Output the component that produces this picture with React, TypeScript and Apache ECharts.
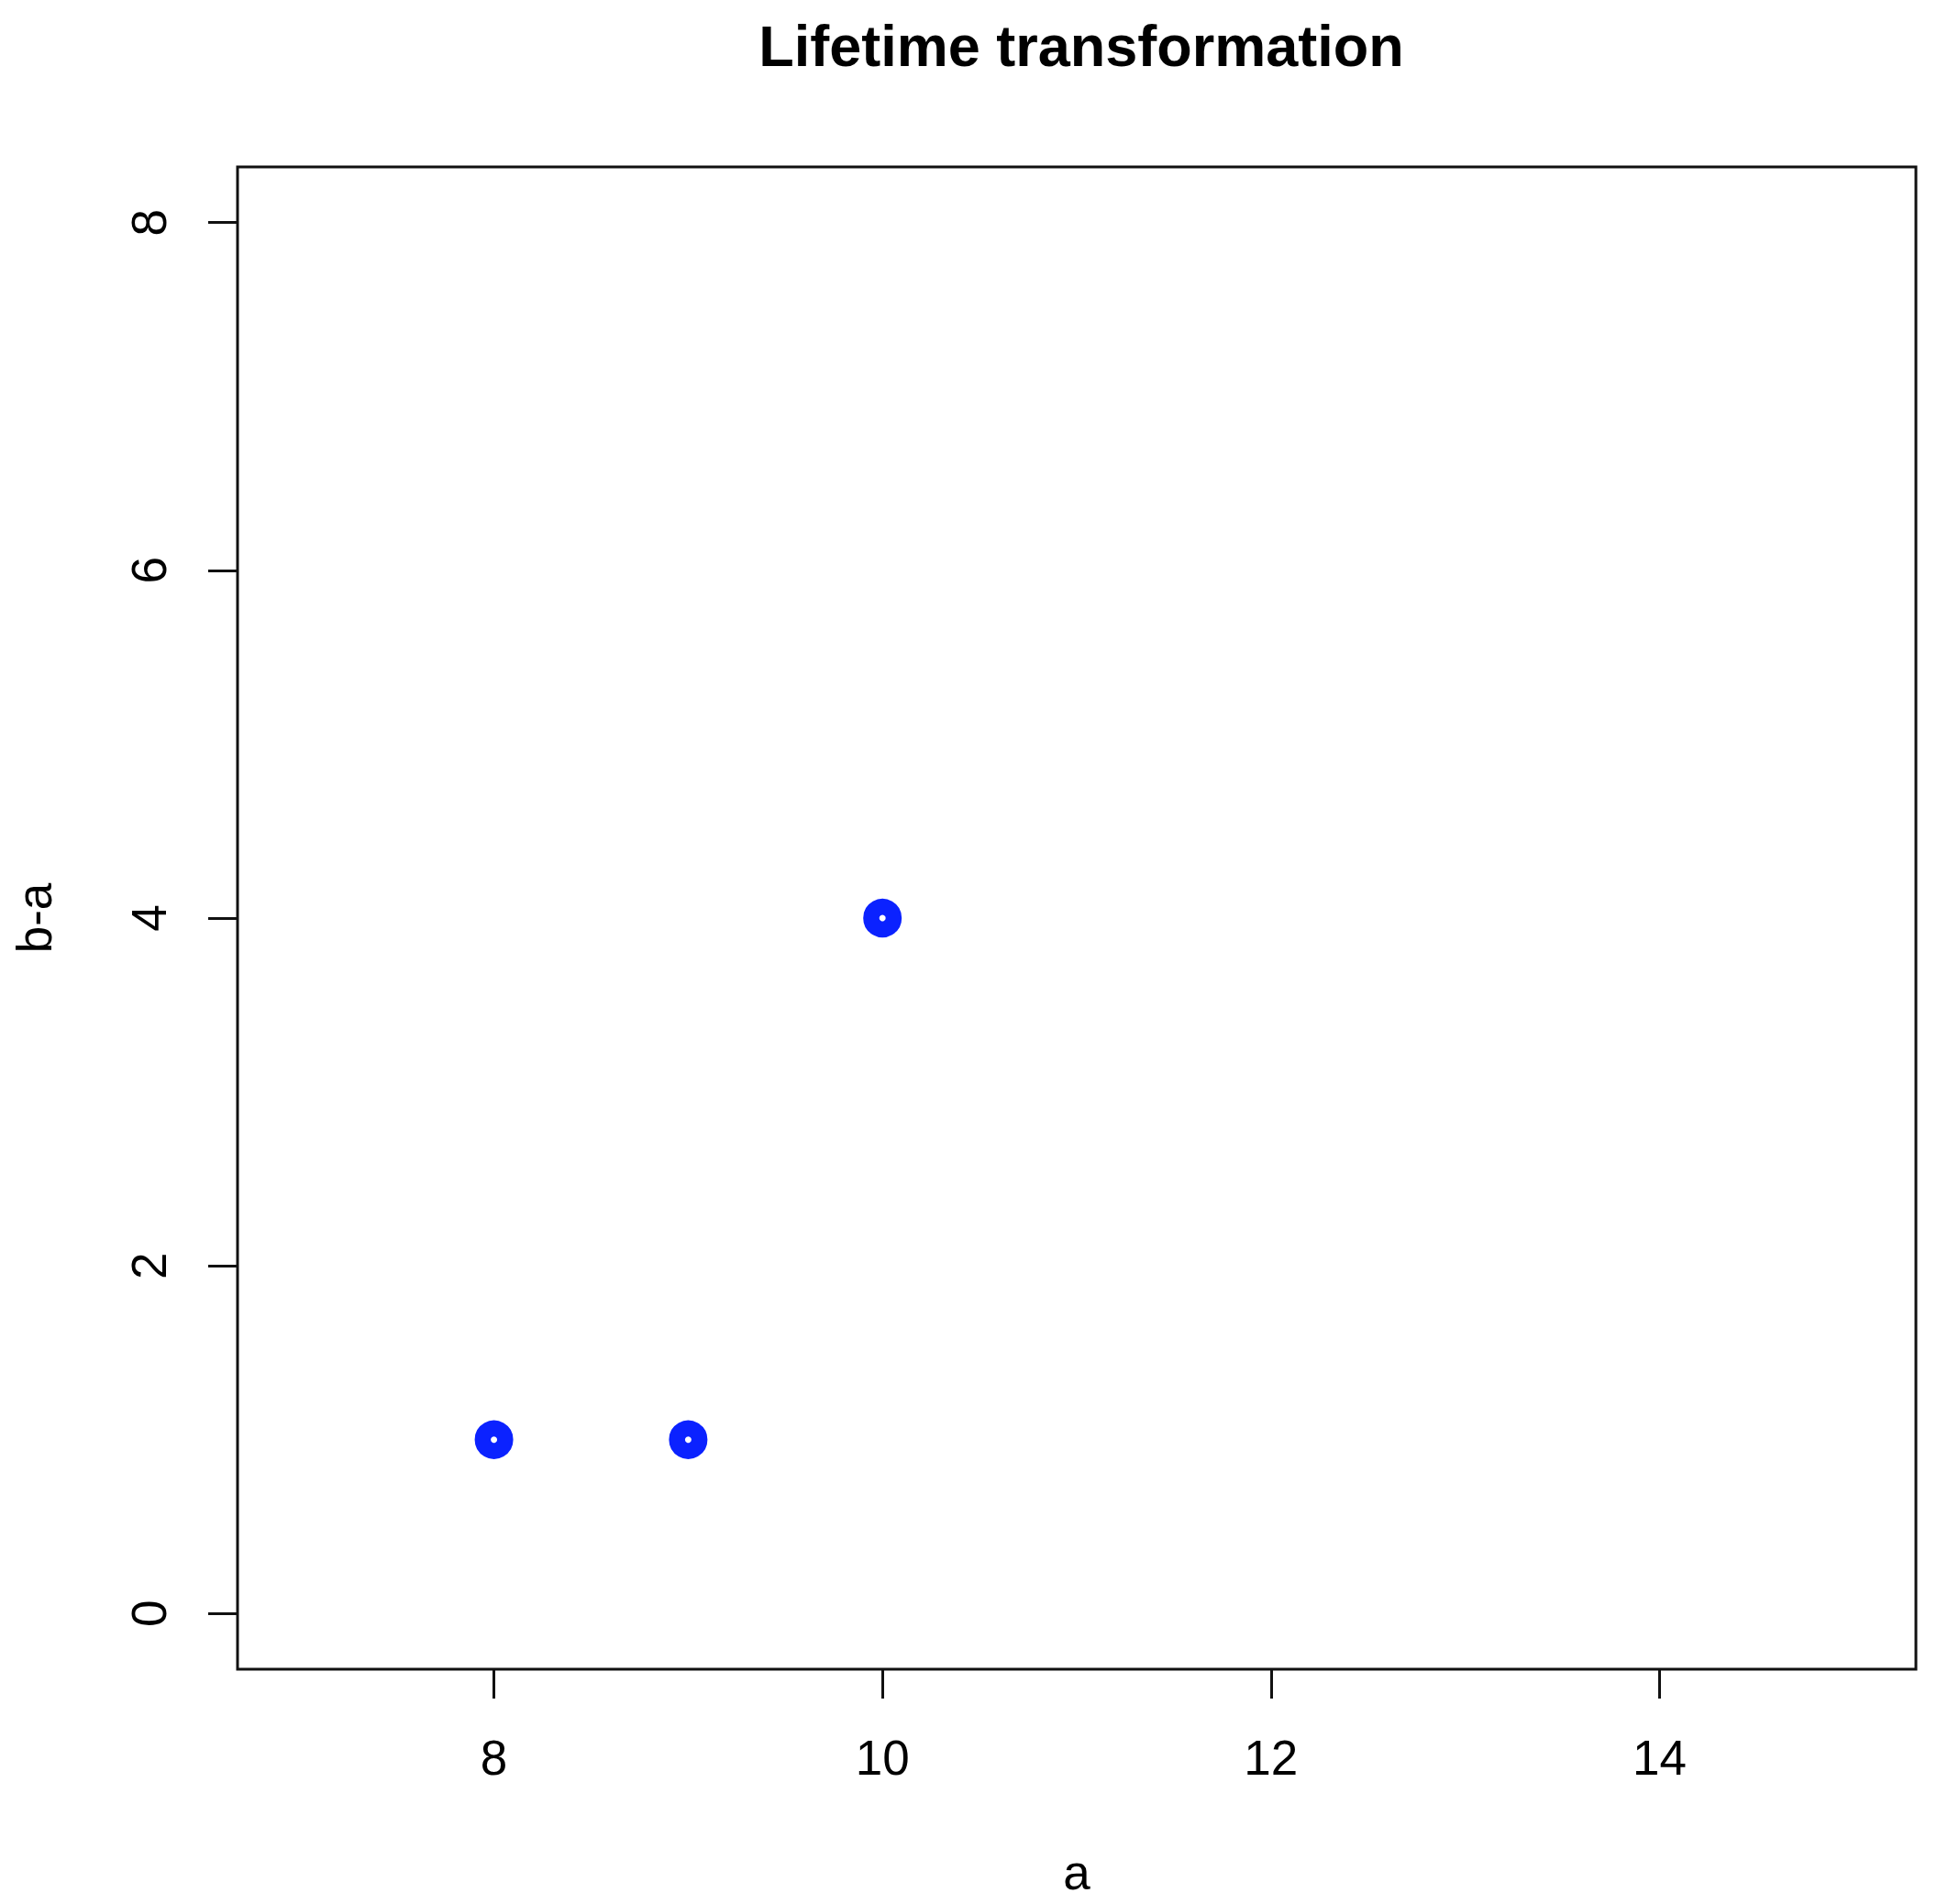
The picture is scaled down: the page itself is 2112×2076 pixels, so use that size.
import React, { useEffect, useRef } from "react";
import * as echarts from "echarts";

const titleText = "Lifetime transformation";
const xName = "a";
const yName = "b-a";
const aValues = [8, 9, 10];
const diffValues = [1, 1, 4];
const xTicks = [8, 10, 12, 14];
const yTicks = [0, 2, 4, 6, 8];
const xRange = [6.68, 15.32];
const yRange = [-0.32, 8.32];

const FONT = "Liberation Sans";

export default function App() {
  const ref = useRef<HTMLDivElement>(null);
  useEffect(() => {
    if (!ref.current) return;
    const chart = echarts.init(ref.current, null, { renderer: "svg" });
    const points = aValues.map((a, i) => [a, diffValues[i]]);
    chart.setOption({
      animation: false,
      backgroundColor: "#ffffff",
      title: {
        text: titleText,
        left: 1174,
        top: 13,
        textAlign: "center",
        textStyle: { fontFamily: FONT, fontSize: 63, fontWeight: "bold", color: "#000" },
      },
      grid: {
        left: 259,
        top: 182,
        width: 1830,
        height: 1638,
        show: true,
        borderColor: "#111",
        borderWidth: 3,
        backgroundColor: "transparent",
      },
      xAxis: {
        type: "value",
        min: xRange[0],
        max: xRange[1],
        name: xName,
        nameLocation: "middle",
        nameGap: 195,
        nameTextStyle: { fontFamily: FONT, fontSize: 53, color: "#000" },
        axisLine: { show: false, onZero: false },
        splitLine: { show: false },
        axisTick: {
          show: true,
          length: 32,
          customValues: xTicks,
          lineStyle: { color: "#111", width: 3 },
        },
        axisLabel: {
          customValues: xTicks,
          margin: 70,
          fontFamily: FONT,
          fontSize: 53,
          color: "#000",
        },
      },
      yAxis: {
        type: "value",
        min: yRange[0],
        max: yRange[1],
        name: yName,
        nameLocation: "middle",
        nameGap: 195,
        nameRotate: 90,
        nameTextStyle: { fontFamily: FONT, fontSize: 53, color: "#000" },
        axisLine: { show: false, onZero: false },
        splitLine: { show: false },
        axisTick: {
          show: true,
          length: 32,
          customValues: yTicks,
          lineStyle: { color: "#111", width: 3 },
        },
        axisLabel: {
          customValues: yTicks,
          rotate: 90,
          margin: 70,
          fontFamily: FONT,
          fontSize: 53,
          color: "#000",
        },
      },
      series: [
        {
          type: "scatter",
          data: points,
          symbol: "circle",
          symbolSize: 24.5,
          itemStyle: {
            color: "rgba(0,0,0,0)",
            borderColor: "#0b22ff",
            borderWidth: 17.5,
            opacity: 1,
          },
        },
      ],
    });
    return () => chart.dispose();
  }, []);
  return (
    <div
      ref={ref}
      style={{ position: "absolute", left: 0, top: 0, width: 2112, height: 2076 }}
    />
  );
}
